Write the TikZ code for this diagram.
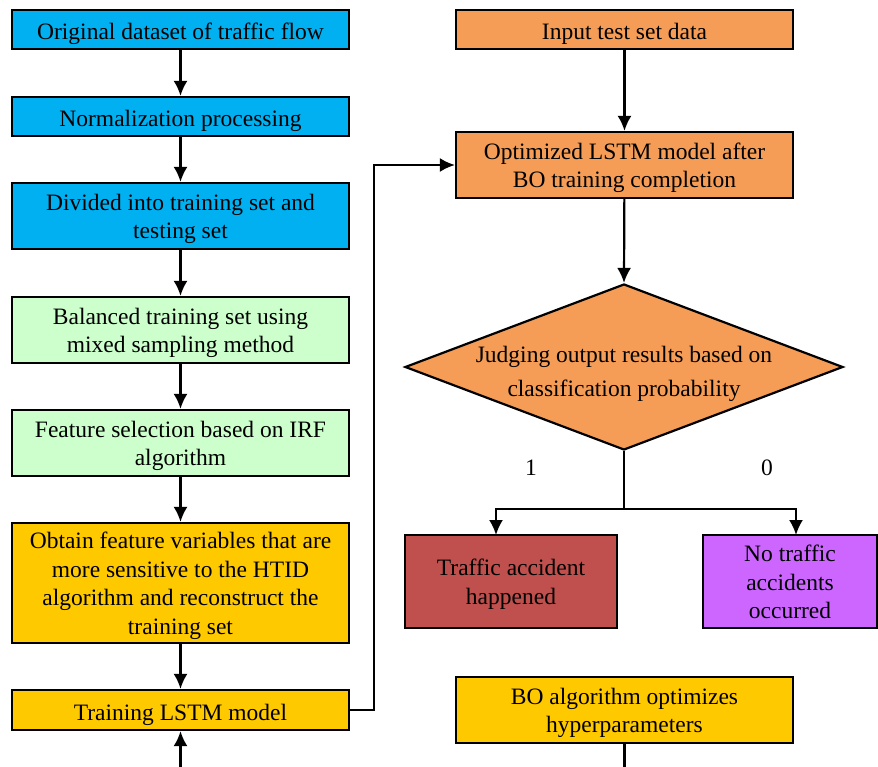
\documentclass[tikz,border=0pt]{standalone}
\usepackage{fontspec}
\setmainfont{Liberation Serif}
\usetikzlibrary{arrows.meta,shapes.geometric}
\definecolor{cblue}{HTML}{00B0F0}
\definecolor{cgreen}{HTML}{CCFFCC}
\definecolor{cgold}{HTML}{FFC900}
\definecolor{corange}{HTML}{F59D56}
\definecolor{cred}{HTML}{C0504D}
\definecolor{cpurple}{HTML}{CC66FF}
\newcommand{\mlines}[1]{\raisebox{-3pt}[\height][\depth]{\begin{tabular}{@{}c@{}}#1\end{tabular}}}
\begin{document}
\begin{tikzpicture}[x=1pt,y=-1pt,
  txt/.style={font=\fontsize{23.5}{28.5}\selectfont,align=center},
  box/.style={font=\fontsize{23.5}{28.5}\selectfont,draw=black,line width=2.2pt,inner sep=0pt},
  box1/.style={box,execute at begin node={\rule{0pt}{26pt}}},
  arr/.style={line width=2.2pt,-{Latex[length=15pt,width=14pt]}},
  ln/.style={line width=2.2pt}]
\useasboundingbox (0,0) rectangle (878,767);
% left column
\node[box1,fill=cblue,minimum width=337pt,minimum height=39pt] (a1) at (180.5,29.5) {Original dataset of traffic flow};
\node[box1,fill=cblue,minimum width=337pt,minimum height=39pt] (a2) at (180.5,116.5) {Normalization processing};
\node[box,fill=cblue,minimum width=337pt,minimum height=66pt] (a3) at (180.5,216) {\mlines{Divided into training set and\\testing set}};
\node[box,fill=cgreen,minimum width=337pt,minimum height=66pt] (a4) at (180.5,330) {\mlines{Balanced training set using\\mixed sampling method}};
\node[box,fill=cgreen,minimum width=337pt,minimum height=66pt] (a5) at (180.5,443) {\mlines{Feature selection based on IRF\\algorithm}};
\node[box,fill=cgold,minimum width=337pt,minimum height=120pt] (a6) at (180.5,583) {\mlines{Obtain feature variables that are\\more sensitive to the HTID\\algorithm and reconstruct the\\training set}};
\node[box1,fill=cgold,minimum width=337pt,minimum height=40pt] (a7) at (180.5,710) {Training LSTM model};
% right column
\node[box1,fill=corange,minimum width=337pt,minimum height=39pt] (b1) at (624.5,29.5) {Input test set data};
\node[box,fill=corange,minimum width=337pt,minimum height=66pt] (b2) at (624.5,165) {\mlines{Optimized LSTM model after\\BO training completion}};
\node[box,fill=corange,diamond,aspect=2.64,minimum width=438pt,minimum height=166pt] (b3) at (624,367) {};
\node[txt,font=\fontsize{23.5}{34}\selectfont] (b3t) at (624,374) {Judging output results based on\\classification probability};
\node[box,fill=cred,minimum width=212pt,minimum height=93pt] (c1) at (511,581.5) {\mlines{Traffic accident\\happened}};
\node[box,fill=cpurple,minimum width=174pt,minimum height=93pt] (c2) at (790,581.5) {\mlines{No traffic\\accidents\\occurred}};
\node[box,fill=cgold,minimum width=337pt,minimum height=66pt] (d1) at (624.5,710) {\mlines{BO algorithm optimizes\\hyperparameters}};
\node[txt] (l1) at (531,468) {1};
\node[txt] (l0) at (767,468) {0};
\coordinate (bot) at (180.5,767);
\coordinate (bot2) at (624.5,767);
\coordinate (split) at (624,509);
% arrows
\draw[arr] (a1) -- (a2);
\draw[arr] (a2) -- (a3);
\draw[arr] (a3) -- (a4);
\draw[arr] (a4) -- (a5);
\draw[arr] (a5) -- (a6);
\draw[arr] (a6) -- (a7);
\draw[arr] (bot) -- (a7);
\draw[arr] (a7.east) -- (374,710) -- (374,165) -- (b2.west);
\draw[arr] (b1) -- (b2);
\draw[arr] (b2) -- (b3.north);
\draw[ln] (b3.south) -- (split);
\draw[arr] (split) -- (496,509) -- (496,535);
\draw[arr] (split) -- (796,509) -- (796,535);
\draw[ln] (d1.south) -- (bot2);
\end{tikzpicture}
\end{document}
